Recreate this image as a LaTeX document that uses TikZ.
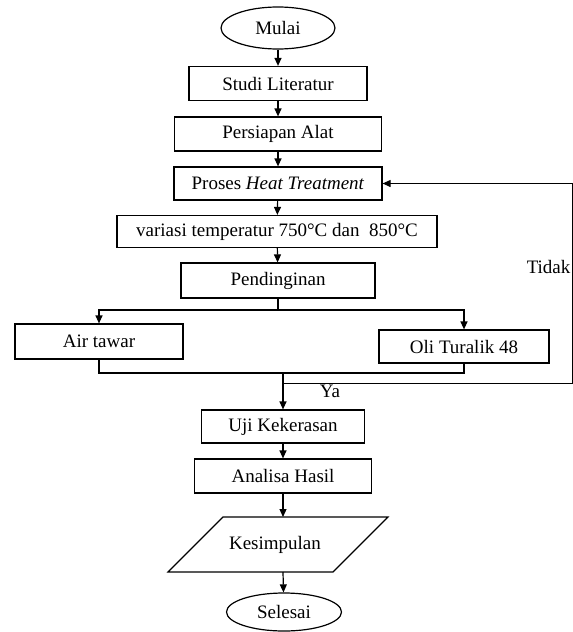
\documentclass[tikz,border=0pt]{standalone}
\usepackage{fontspec}
\setmainfont{Liberation Serif}
\usetikzlibrary{arrows.meta,shapes.geometric}

\begin{document}
\begin{tikzpicture}[x=1pt, y=-1pt, line width=1.2pt,
        >={Triangle[length=8pt,width=7pt]},
        font=\fontsize{19}{22}\selectfont]
    \useasboundingbox (0,0) rectangle (573,632);

    \begin{scope}[every node/.style={draw, inner sep=0pt, minimum height=34pt}]
        \node (M) [ellipse, minimum width=114pt, minimum height=42pt] at (278, 28) {Mulai};
        \node (S) [minimum width=178pt] at (278, 83.5) {Studi Literatur};
        \node (P) [minimum width=207pt] at (278, 134) {Persiapan Alat};
        \node (H) [minimum width=208pt, minimum height=33pt] at (278, 183.5) {Proses \textit{Heat Treatment}};
        \node (V) [minimum width=320pt, minimum height=32pt] at (277, 231.5) {variasi temperatur 750°C dan~ 850°C};
        \node (D) [minimum width=194pt, minimum height=35pt] at (278, 280.5) {Pendinginan};
        \node (AT) [minimum width=168pt, minimum height=35pt] at (99, 341.5) {Air tawar};
        \node (OT) [minimum width=170pt, minimum height=33pt] at (464, 346.5) {Oli Turalik 48};
        \node (U) [minimum width=163pt, minimum height=33pt] at (283, 426.5) {Uji Kekerasan};
        \node (A) [minimum width=177pt] at (283, 476) {Analisa Hasil};
        \node (E) [ellipse, minimum width=115pt, minimum height=38pt] at (284, 612) {Selesai};
    \end{scope}

    % kesimpulan (jajaran genjang)
    \node (K) at (275, 545) {Kesimpulan};
    \draw (K.center) ++(-107,27) -- ++(165,0) -- ++(55,-55) -- ++(-165,0) -- cycle;

    \coordinate (fork) at (278, 310);
    \coordinate (join) at (283, 373);
    \coordinate (back) at (283, 383);
    \coordinate (corner) at (572.3, 183.5);
    \coordinate (Ktop) at (283, 517);
    \coordinate (Kbot) at (283, 572);

    \begin{scope}[every edge/.style={draw=black, line width=1.2pt}]
        \path [->] (M) edge (S);
        \path [->] (S) edge (P);
        \path [->] (P) edge (H);
        \path [->] (H) edge (V);
        \path [->] (V) edge (D);
        \path [->] (join) edge (U);
        \path [->] (U) edge (A);
        \path [->] (A) edge (Ktop);
        \path [->] (Kbot) edge (E);
    \end{scope}

    \draw (D) -- (fork);
    \draw [->] (fork) -| (AT);
    \draw [->] (fork) -| (OT);
    \draw (AT.south) |- (join) -| (OT.south);
    \draw [->, line width=1pt] (back) -| (corner) -- (H.east);

    \node (ya) at (330, 391) {Ya};
    \node (tidak) [anchor=east, inner sep=0pt] at (571, 267) {Tidak};
\end{tikzpicture}
\end{document}
